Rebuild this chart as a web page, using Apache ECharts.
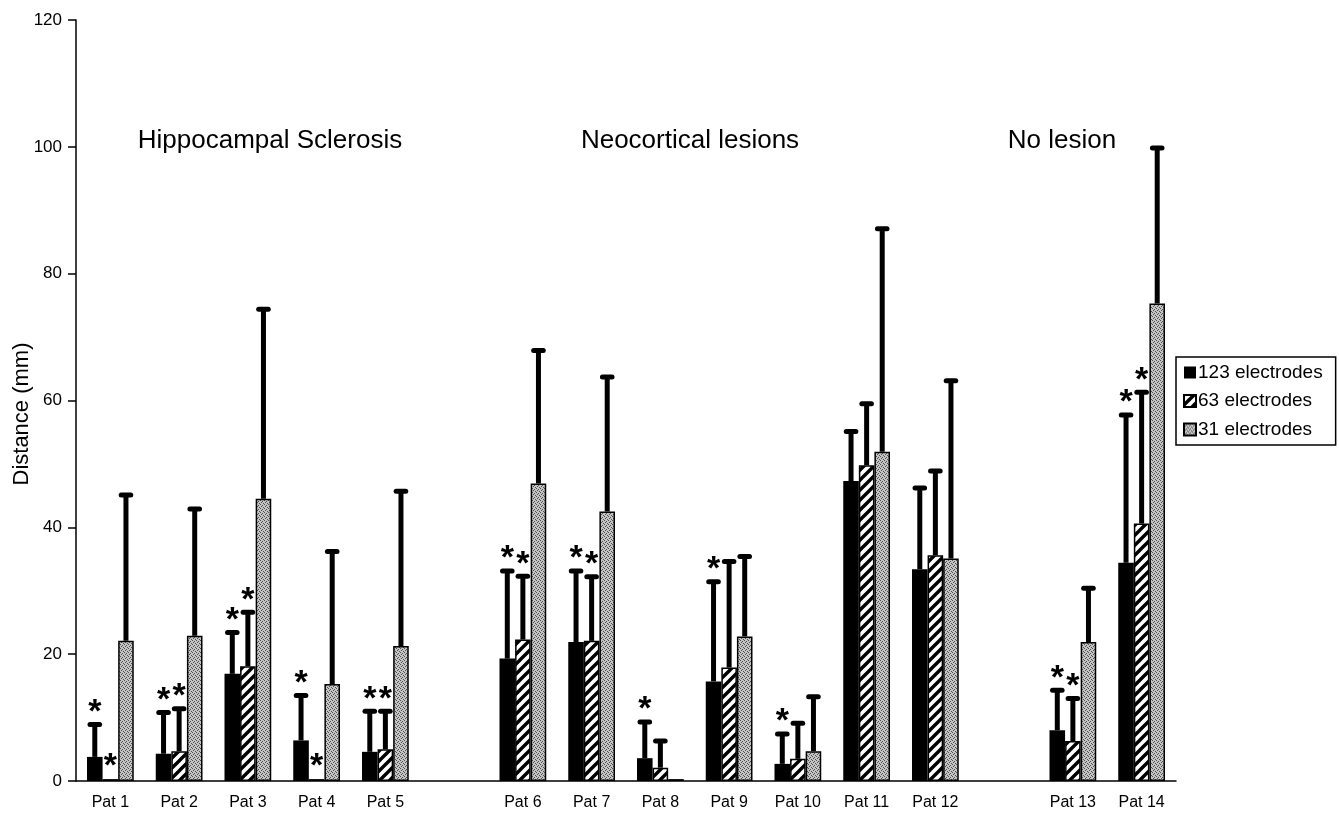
<!DOCTYPE html>
<html>
<head>
<meta charset="utf-8">
<script src="https://cdn.jsdelivr.net/npm/echarts@6/dist/echarts.min.js"></script>
<style>html,body{margin:0;padding:0;background:#fff;}#c{width:1339px;height:818px;}</style>
</head>
<body>
<div id="c"></div>
<script>
const categories = ['Pat 1','Pat 2','Pat 3','Pat 4','Pat 5','','Pat 6','Pat 7','Pat 8','Pat 9','Pat 10','Pat 11','Pat 12','','Pat 13','Pat 14'];
const seriesNames = ['123 electrodes','63 electrodes','31 electrodes'];
const mean123 = [3.8,4.3,16.9,6.4,4.6,null,19.3,21.9,3.6,15.7,2.7,47.3,33.4,null,8.0,34.4];
const sd123   = [5.1,6.5,6.5,7.1,6.4,null,13.8,11.2,5.7,15.7,4.7,7.8,12.8,null,6.3,23.3];
const star123 = [1,1,1,1,1,0,1,1,1,1,1,0,0,0,1,1];
const mean63  = [0.3,4.7,18.1,0.3,5.0,null,22.3,22.1,2.1,17.9,3.5,49.8,35.6,null,6.3,40.6];
const sd63    = [0,6.7,8.5,0,6.0,null,10.0,10.1,4.2,16.7,5.6,9.7,13.3,null,6.7,20.7];
const star63  = [1,1,1,1,1,0,1,1,0,0,0,0,0,0,1,1];
const mean31  = [22.1,22.9,44.5,15.3,21.3,null,46.9,42.5,0.3,22.8,4.7,51.9,35.1,null,21.9,75.3];
const sd31    = [23.0,20.0,29.9,20.9,24.4,null,21.0,21.2,0,12.6,8.6,35.2,28.0,null,8.5,24.5];
const star31  = [0,0,0,0,0,0,0,0,0,0,0,0,0,0,0,0];
const groupNames = ['Hippocampal Sclerosis','Neocortical lesions','No lesion'];
const yAxisTitle = 'Distance (mm)';
const yTicks = [0,20,40,60,80,100,120];

const FONT = 'Arial, "Liberation Sans", sans-serif';
const GAP = 0.32;

function hatchPattern(){
  const c = document.createElement('canvas'); c.width = 10; c.height = 10;
  const x = c.getContext('2d');
  x.fillStyle = '#fff'; x.fillRect(0,0,10,10);
  x.strokeStyle = '#000'; x.lineWidth = 3.4; x.lineCap = 'square';
  x.beginPath();
  x.moveTo(-5,5); x.lineTo(5,-5);
  x.moveTo(-1,11); x.lineTo(11,-1);
  x.moveTo(5,15); x.lineTo(15,5);
  x.stroke();
  return c;
}
function stipplePattern(){
  const c = document.createElement('canvas'); c.width = 4; c.height = 4;
  const x = c.getContext('2d');
  x.fillStyle = '#c4c4c4'; x.fillRect(0,0,4,4);
  x.fillStyle = '#505050';
  [[0,0],[2,1],[1,2],[3,3]].forEach(p => x.fillRect(p[0],p[1],1,1));
  return c;
}

const fills = [
  '#000000',
  {image: hatchPattern(), repeat: 'repeat'},
  {image: stipplePattern(), repeat: 'repeat'}
];
const means = [mean123, mean63, mean31];
const sds = [sd123, sd63, sd31];
const stars = [star123, star63, star31];

function errData(k){
  const out = [];
  means[k].forEach((m, i) => { if (m != null) out.push([i, m, sds[k][i], stars[k][i]]); });
  return out;
}

function makeRender(k){
  return function(params, api){
    const i = api.value(0), m = api.value(1), sd = api.value(2), st = api.value(3);
    const band = api.size([1, 0])[0];
    const bw = band * (1 - GAP) / 3;
    const xc = api.coord([i, 0])[0] + (k - 1) * bw;
    const yb = api.coord([i, m])[1];
    const yt = api.coord([i, m + sd])[1];
    const children = [];
    if (sd > 0) {
      children.push({type:'line', shape:{x1:xc, y1:yb, x2:xc, y2:yt}, style:{stroke:'#000', lineWidth:5}});
      children.push({type:'line', shape:{x1:xc - bw/2 + 3, y1:yt, x2:xc + bw/2 - 3, y2:yt}, style:{stroke:'#000', lineWidth:5, lineCap:'round'}});
    }
    if (st) {
      children.push({type:'text', style:{text:'*', x:xc, y:yt - 12, align:'center', verticalAlign:'middle', font:'bold 34px ' + FONT, fill:'#000'}});
    }
    return {type:'group', children: children};
  };
}

const series = [];
for (let k = 0; k < 3; k++) {
  series.push({
    name: seriesNames[k], type: 'bar', data: means[k],
    barGap: '0%', barCategoryGap: (GAP*100) + '%',
    itemStyle: {color: fills[k], borderColor: '#000', borderWidth: k === 0 ? 0 : 1.5},
    emphasis: {disabled: true}, z: 2
  });
}
for (let k = 0; k < 3; k++) {
  series.push({
    type: 'custom', name: seriesNames[k] + ' sd', data: errData(k),
    renderItem: makeRender(k), z: 5, silent: true,
    encode: {x: 0, y: [1, 2]}
  });
}

const chart = echarts.init(document.getElementById('c'), null, {renderer: 'canvas'});
chart.setOption({
  animation: false,
  backgroundColor: '#fff',
  grid: {left: 76, top: 20, width: 1100, height: 761, containLabel: false, outerBoundsMode: 'none'},
  legend: {
    data: seriesNames, orient: 'vertical', left: 1176, top: 357,
    padding: [6, 13, 6, 7], itemGap: 9.5, itemWidth: 12, itemHeight: 12,
    borderColor: '#000', borderWidth: 1.5,
    textStyle: {fontFamily: FONT, fontSize: 19, color: '#000', lineHeight: 18, padding: [0,0,0,-3]},
    icon: 'rect'
  },
  xAxis: {
    type: 'category', data: categories,
    axisLine: {lineStyle: {color: '#000', width: 1.5}},
    axisTick: {show: false},
    axisLabel: {interval: 0, color: '#000', fontFamily: FONT, fontSize: 16, margin: 14}
  },
  yAxis: {
    type: 'value', min: 0, max: 120, interval: 20,
    axisLine: {show: true, lineStyle: {color: '#000', width: 1.5}},
    axisTick: {show: true, length: 8, lineStyle: {color: '#000', width: 1.5}},
    axisLabel: {color: '#000', fontFamily: FONT, fontSize: 17, margin: 14,
      formatter: v => yTicks.indexOf(v) >= 0 ? String(v) : ''},
    splitLine: {show: false}
  },
  graphic: [
    {type:'text', x:22, y:414, rotation: Math.PI/2, style:{text:yAxisTitle, align:'center', verticalAlign:'middle', font:'22px ' + FONT, fill:'#000'}},
    {type:'text', x:270, y:141, style:{text:groupNames[0], align:'center', verticalAlign:'middle', font:'26px ' + FONT, fill:'#000'}},
    {type:'text', x:690, y:141, style:{text:groupNames[1], align:'center', verticalAlign:'middle', font:'26px ' + FONT, fill:'#000'}},
    {type:'text', x:1062, y:141, style:{text:groupNames[2], align:'center', verticalAlign:'middle', font:'26px ' + FONT, fill:'#000'}}
  ],
  series: series
});
</script>
</body>
</html>
